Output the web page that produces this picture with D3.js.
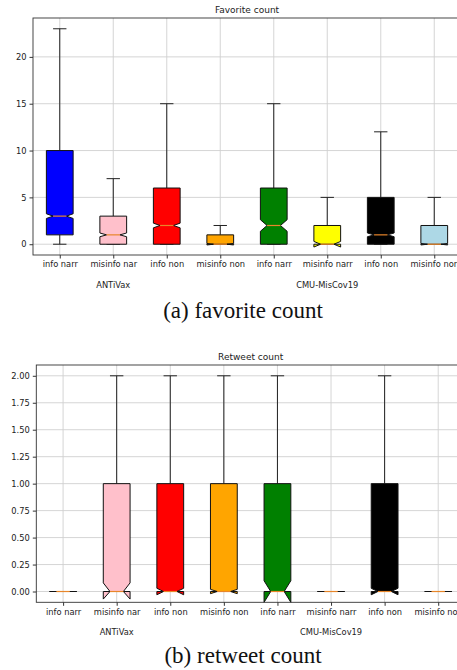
<!DOCTYPE html>
<html>
<head>
<meta charset="utf-8">
<script src="https://cdn.jsdelivr.net/npm/d3@7"></script>
<style>
  body { margin: 0; background: #fff; }
  svg { display: block; }
</style>
</head>
<body>
<svg id="chart" width="457" height="670"></svg>
<script>
// box labels, groups and colours (same for both panels)
const categories = ['info narr', 'misinfo nar', 'info non', 'misinfo non', 'info narr', 'misinfo narr', 'info non', 'misinfo non'];
const groups = ['ANTiVax', 'CMU-MisCov19'];
const groupPos = [2, 6];
const boxColors = ['blue', 'pink', 'red', 'orange', 'green', 'yellow', 'black', 'lightblue'];

// favorite count stats
const favWhisLo = [0, 0, 0, 0, 0, 0, 0, 0];
const favQ1 = [1, 0, 0, 0, 0, 0, 0, 0];
const favMed = [3, 1, 2, 0, 2, 0, 1, 0];
const favQ3 = [10, 3, 6, 1, 6, 2, 5, 2];
const favWhisHi = [23, 7, 15, 2, 15, 5, 12, 5];
const favCiLo = [2.75, 0.8, 1.75, -0.08, 1.38, -0.3, 0.8, -0.08];
const favCiHi = [3.25, 1.2, 2.25, 0.08, 2.62, 0.3, 1.2, 0.08];
const favTicks = [0, 5, 10, 15, 20];

// retweet count stats
const rtWhisLo = [0, 0, 0, 0, 0, 0, 0, 0];
const rtQ1 = [0, 0, 0, 0, 0, 0, 0, 0];
const rtMed = [0, 0, 0, 0, 0, 0, 0, 0];
const rtQ3 = [0, 1, 1, 1, 1, 0, 1, 0];
const rtWhisHi = [0, 2, 2, 2, 2, 0, 2, 0];
const rtCiLo = [0, -0.07, -0.03, -0.02, -0.1, 0, -0.03, 0];
const rtCiHi = [0, 0.08, 0.03, 0.02, 0.1, 0, 0.03, 0];
const rtTicks = [0, 0.25, 0.5, 0.75, 1, 1.25, 1.5, 1.75, 2];

const svg = d3.select('#chart');
const font = 'DejaVu Sans, sans-serif';
const tickSize = '8.3px';

function toStats(lo, q1, med, q3, hi, cilo, cihi) {
  return categories.map((c, i) => ({
    pos: i + 1, lo: lo[i], q1: q1[i], med: med[i], q3: q3[i], hi: hi[i],
    cilo: cilo[i], cihi: cihi[i], fill: boxColors[i]
  }));
}

function drawPanel(opt) {
  const x = d3.scaleLinear().domain([0.5, 8.5]).range([opt.left, opt.right]);
  const y = d3.scaleLinear().domain(opt.yDomain).range([opt.bottom, opt.top]);
  const g = svg.append('g');

  // grid
  g.append('g').selectAll('line.gy').data(opt.ticks).join('line')
    .attr('x1', opt.left).attr('x2', opt.right)
    .attr('y1', d => y(d)).attr('y2', d => y(d))
    .attr('stroke', '#d0d0d0').attr('stroke-width', 0.9);
  g.append('g').selectAll('line.gx').data(d3.range(1, 9)).join('line')
    .attr('x1', d => x(d)).attr('x2', d => x(d))
    .attr('y1', opt.top).attr('y2', opt.bottom)
    .attr('stroke', '#d0d0d0').attr('stroke-width', 0.9);

  const w = 0.5;
  const boxes = g.append('g').selectAll('g').data(opt.stats).join('g');

  // whiskers
  boxes.append('line')
    .attr('x1', d => x(d.pos)).attr('x2', d => x(d.pos))
    .attr('y1', d => y(d.q3)).attr('y2', d => y(d.hi))
    .attr('stroke', '#222').attr('stroke-width', 1);
  boxes.append('line')
    .attr('x1', d => x(d.pos)).attr('x2', d => x(d.pos))
    .attr('y1', d => y(d.q1)).attr('y2', d => y(d.lo))
    .attr('stroke', '#222').attr('stroke-width', 1);
  // caps
  ['lo', 'hi'].forEach(k => {
    boxes.append('line')
      .attr('x1', d => x(d.pos - w * 0.25)).attr('x2', d => x(d.pos + w * 0.25))
      .attr('y1', d => y(d[k])).attr('y2', d => y(d[k]))
      .attr('stroke', '#222').attr('stroke-width', 1);
  });

  // notched box
  boxes.append('path')
    .attr('d', d => {
      const bl = x(d.pos - w / 2), br = x(d.pos + w / 2);
      const nl = x(d.pos - w / 4), nr = x(d.pos + w / 4);
      const pts = [[bl, d.q1], [br, d.q1], [br, d.cilo], [nr, d.med], [br, d.cihi], [br, d.q3],
        [bl, d.q3], [bl, d.cihi], [nl, d.med], [bl, d.cilo], [bl, d.q1]];
      return d3.line().x(p => p[0]).y(p => y(p[1]))(pts) + 'Z';
    })
    .attr('fill', d => d.fill)
    .attr('stroke', '#111').attr('stroke-width', 1)
    .attr('stroke-linejoin', 'miter');

  // median
  boxes.append('line')
    .attr('x1', d => x(d.pos - w / 4)).attr('x2', d => x(d.pos + w / 4))
    .attr('y1', d => y(d.med)).attr('y2', d => y(d.med))
    .attr('stroke', '#e8862a').attr('stroke-width', 1.2);

  // frame
  g.append('rect')
    .attr('x', opt.left).attr('y', opt.top)
    .attr('width', opt.right - opt.left).attr('height', opt.bottom - opt.top)
    .attr('fill', 'none').attr('stroke', '#333').attr('stroke-width', 0.9);

  // axes
  const yAxis = g.append('g')
    .attr('transform', `translate(${opt.left},0)`)
    .call(d3.axisLeft(y).tickValues(opt.ticks).tickSize(3.5).tickPadding(3).tickFormat(opt.fmt));
  const xAxis = g.append('g')
    .attr('transform', `translate(0,${opt.bottom})`)
    .call(d3.axisBottom(x).tickValues(d3.range(1, 9)).tickSize(3.5).tickPadding(3)
      .tickFormat(d => categories[d - 1]));
  [yAxis, xAxis].forEach(a => {
    a.select('.domain').remove();
    a.selectAll('line').attr('stroke', '#333');
    a.selectAll('text').attr('fill', '#222').style('font-family', font).style('font-size', tickSize);
  });

  // group labels
  g.append('g').selectAll('text').data(groups).join('text')
    .attr('x', (d, i) => x(groupPos[i]))
    .attr('y', opt.bottom + 32.5)
    .attr('text-anchor', 'middle')
    .style('font-family', font).style('font-size', tickSize).attr('fill', '#222')
    .text(d => d);

  // title
  g.append('text')
    .attr('x', (opt.left + opt.right) / 2).attr('y', opt.top - 5)
    .attr('text-anchor', 'middle')
    .style('font-family', font).style('font-size', '9px').attr('fill', '#222')
    .text(opt.title);

  // caption
  g.append('text')
    .attr('x', 243).attr('y', opt.captionY)
    .attr('text-anchor', 'middle')
    .style('font-family', 'Liberation Serif, Times New Roman, serif').style('font-size', '23px')
    .attr('fill', '#111')
    .text(opt.caption);
}

drawPanel({
  left: 33, right: 461, top: 18, bottom: 255,
  yDomain: [-1.15, 24.15], ticks: favTicks, fmt: d3.format('d'),
  stats: toStats(favWhisLo, favQ1, favMed, favQ3, favWhisHi, favCiLo, favCiHi),
  title: 'Favorite count', caption: '(a) favorite count', captionY: 318
});

drawPanel({
  left: 36.3, right: 465, top: 365, bottom: 602.3,
  yDomain: [-0.1, 2.1], ticks: rtTicks, fmt: d3.format('.2f'),
  stats: toStats(rtWhisLo, rtQ1, rtMed, rtQ3, rtWhisHi, rtCiLo, rtCiHi),
  title: 'Retweet count', caption: '(b) retweet count', captionY: 663
});
</script>
</body>
</html>
